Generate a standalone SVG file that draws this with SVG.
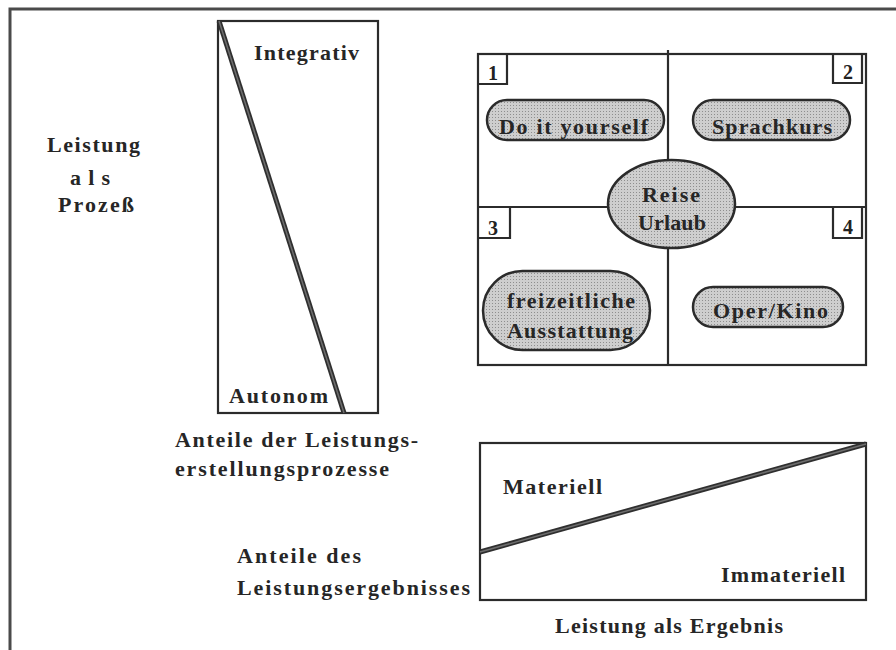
<svg xmlns="http://www.w3.org/2000/svg" width="896" height="650" viewBox="0 0 896 650">
  <defs>
    <pattern id="dots" width="3" height="3" patternUnits="userSpaceOnUse">
      <rect width="3" height="3" fill="#cecece"/>
      <rect width="1" height="1" fill="#8e8e8e"/>
    </pattern>
    <style>
      .t { font-family: "Liberation Serif", "Times New Roman", serif; font-weight: bold; fill: #262626; font-size: 22px; }
      .ln { fill: none; stroke: #2b2b2b; stroke-width: 2.2; }
      .frame { fill: none; stroke: #4a4a4a; stroke-width: 3; }
      .pill { fill: url(#dots); stroke: #2b2b2b; stroke-width: 2.5; }
      .diag { stroke: #2f2f2f; stroke-width: 5; stroke-linecap: butt; }
      .diagin { stroke: #6e6e6e; stroke-width: 1.5; }
      .num { font-family: "Liberation Serif", "Times New Roman", serif; font-weight: bold; fill: #222; font-size: 20px; }
    </style>
  </defs>
  <rect width="896" height="650" fill="#ffffff"/>

  <g id="outer-frame">
    <path class="frame" d="M10 650 V9 H896"/>
  </g>

  <g id="process-side">
    <rect class="ln" x="218" y="21" width="160" height="392"/>
    <text class="t" x="47" y="152" textLength="93" lengthAdjust="spacing">Leistung</text>
    <text class="t" x="70" y="185" textLength="40" lengthAdjust="spacing">als</text>
    <text class="t" x="58" y="212" textLength="76" lengthAdjust="spacing">Prozeß</text>
    <text class="t" x="254" y="60" textLength="105" lengthAdjust="spacing">Integrativ</text>
    <text class="t" x="229" y="403" textLength="99" lengthAdjust="spacing">Autonom</text>
    <text class="t" x="175" y="447" textLength="243" lengthAdjust="spacing">Anteile der Leistungs-</text>
    <text class="t" x="175" y="476" textLength="214" lengthAdjust="spacing">erstellungsprozesse</text>
  </g>

  <g id="quadrant">
    <rect class="ln" x="478" y="54" width="388" height="311"/>
    <path class="ln" d="M668 50 V162 M668 246 V365 M478 207 H610 M733 207 H866"/>
    <g id="box-1">
      <path class="ln" d="M478 84 H507 V54"/>
      <text class="num" x="488" y="80">1</text>
    </g>
    <g id="box-2">
      <path class="ln" d="M833 54 V83 H862 V54"/>
      <text class="num" x="843" y="79">2</text>
    </g>
    <g id="box-3">
      <path class="ln" d="M478 238 H510 V207"/>
      <text class="num" x="488" y="235">3</text>
    </g>
    <g id="box-4">
      <path class="ln" d="M833 207 V238 H862 V207"/>
      <text class="num" x="843" y="234">4</text>
    </g>
  </g>

  <g id="node-do-it-yourself">
    <rect class="pill" x="487" y="100" width="177" height="40" rx="20"/>
    <text class="t" x="499" y="134" textLength="149" lengthAdjust="spacing">Do it yourself</text>
  </g>
  <g id="node-sprachkurs">
    <rect class="pill" x="693" y="100" width="157" height="40" rx="20"/>
    <text class="t" x="712" y="134" textLength="120" lengthAdjust="spacing">Sprachkurs</text>
  </g>
  <g id="node-reise-urlaub">
    <ellipse class="pill" cx="671.5" cy="204" rx="63.5" ry="44"/>
    <text class="t" x="642" y="202" textLength="58" lengthAdjust="spacing">Reise</text>
    <text class="t" x="638" y="230" textLength="68" lengthAdjust="spacing">Urlaub</text>
  </g>
  <g id="node-freizeitliche-ausstattung">
    <rect class="pill" x="483" y="271" width="167" height="79" rx="39.5"/>
    <text class="t" x="507" y="308" textLength="128" lengthAdjust="spacing">freizeitliche</text>
    <text class="t" x="507" y="338" textLength="126" lengthAdjust="spacing">Ausstattung</text>
  </g>
  <g id="node-oper-kino">
    <rect class="pill" x="693" y="287" width="150" height="40" rx="20"/>
    <text class="t" x="713" y="318" textLength="115" lengthAdjust="spacing">Oper/Kino</text>
  </g>

  <g id="result-side">
    <rect class="ln" x="480" y="443" width="386" height="157"/>
    <text class="t" x="503" y="494" textLength="99" lengthAdjust="spacing">Materiell</text>
    <text class="t" x="721" y="582" textLength="124" lengthAdjust="spacing">Immateriell</text>
    <text class="t" x="555" y="633" textLength="228" lengthAdjust="spacing">Leistung als Ergebnis</text>
    <text class="t" x="237" y="563" textLength="124" lengthAdjust="spacing">Anteile des</text>
    <text class="t" x="237" y="595" textLength="233" lengthAdjust="spacing">Leistungsergebnisses</text>
  </g>

  <g id="connectors">
    <line class="diag" x1="219" y1="21" x2="344" y2="413"/>
    <line class="diagin" x1="219" y1="21" x2="344" y2="413"/>
    <line class="diag" x1="480" y1="552" x2="866" y2="444"/>
    <line class="diagin" x1="480" y1="552" x2="866" y2="444"/>
  </g>
</svg>
